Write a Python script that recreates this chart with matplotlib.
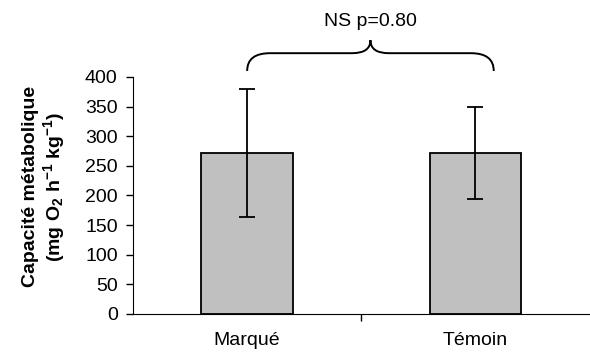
import matplotlib.pyplot as plt
from matplotlib.path import Path
from matplotlib.patches import PathPatch

plt.rcParams['font.family'] = ['Liberation Sans', 'DejaVu Sans']
plt.rcParams['mathtext.fontset'] = 'custom'
plt.rcParams['mathtext.rm'] = 'Liberation Sans:bold'
plt.rcParams['mathtext.it'] = 'Liberation Sans:bold'
plt.rcParams['mathtext.bf'] = 'Liberation Sans:bold'

groups = ['Marqué', 'Témoin']
means = [272, 272]
errors = [108, 78]
y_ticks = [0, 50, 100, 150, 200, 250, 300, 350, 400]
note = 'NS p=0.80'

fig = plt.figure(figsize=(5.9, 3.56), dpi=100)
ax = fig.add_axes([0.2254, 0.118, 0.774, 0.666])

x = range(len(groups))
ax.bar(x, means, width=0.40, color='#c0c0c0', edgecolor='black', linewidth=1.3, zorder=2)
ax.errorbar(x, means, yerr=errors, fmt='none', ecolor='black', elinewidth=1.3,
            capsize=5.8, capthick=1.3, zorder=3)

ax.set_xlim(-0.5, 1.5)
ax.set_ylim(0, 400)
ax.set_yticks(y_ticks)
ax.tick_params(axis='y', labelsize=14, length=5, width=1, direction='out', pad=6)
ax.set_xticks([0.5])
ax.set_xticklabels([''])
ax.tick_params(axis='x', length=5, width=1, direction='out')
for i, g in enumerate(groups):
    ax.text(i, -45, g, ha='center', va='center', fontsize=14, clip_on=False)

ax.spines['top'].set_visible(False)
ax.spines['right'].set_visible(False)

# curly brace over both bars
xl, xr, xm = 0.0, 1.08, 0.54
yb, yh, yt = 410, 440, 462
verts = [(xl, yb), (xl, yh), (xl + 0.1, yh),
         (xm - 0.08, yh),
         (xm, yh), (xm, yt),
         (xm, yh), (xm + 0.08, yh),
         (xr - 0.1, yh),
         (xr, yh), (xr, yb)]
codes = [Path.MOVETO, Path.CURVE3, Path.CURVE3,
         Path.LINETO,
         Path.CURVE3, Path.CURVE3,
         Path.CURVE3, Path.CURVE3,
         Path.LINETO,
         Path.CURVE3, Path.CURVE3]
ax.add_patch(PathPatch(Path(verts, codes), facecolor='none', edgecolor='black',
                       linewidth=1.4, clip_on=False))
ax.text(xm, 494, note, ha='center', va='center', fontsize=14, clip_on=False)

fig.text(0.075, 0.475, 'Capacité métabolique\n(mg O$_2$ h$^{-1}$ kg$^{-1}$)', rotation=90,
         ha='center', va='center', fontsize=14, fontweight='bold', multialignment='center',
         linespacing=1.1)

fig.savefig('out.png', dpi=100)
